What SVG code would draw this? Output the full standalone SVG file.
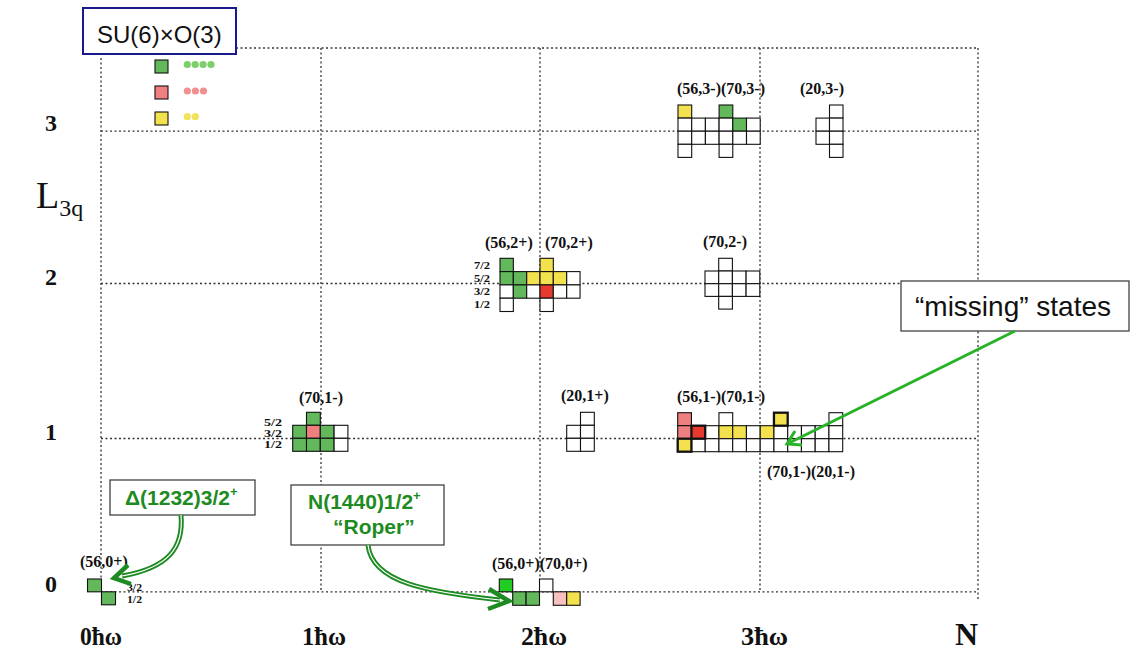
<svg xmlns="http://www.w3.org/2000/svg" width="1136" height="665" viewBox="0 0 1136 665">
<style>
.grid{stroke:#333;stroke-width:1.3;stroke-dasharray:2 2.5;fill:none}
.c{stroke:#111;stroke-width:1.1;fill:#fff}
.g{fill:#62b85a}
.p{fill:#f08080}
.R{fill:#e63a2e}
.y{fill:#f3e24d}
.lp{fill:#f7c1c1}
.bg{fill:#22cc22}
.t{stroke-width:2.3}
.lbl{font-family:"Liberation Serif",serif;font-weight:bold;font-size:16px;fill:#111}
.j{font-family:"Liberation Serif",serif;font-weight:bold;font-size:11px;fill:#111}
.ax{font-family:"Liberation Serif",serif;font-weight:bold;font-size:24px;fill:#111}
.hw{font-family:"Liberation Serif",serif;font-weight:bold;font-size:26px;fill:#111}
.box{fill:#fff;stroke:#333;stroke-width:1.2}
.gt{font-family:"Liberation Sans",sans-serif;font-weight:bold;font-size:21px;fill:#1e8b22}
.dl{fill:none;stroke:#1e8b22;stroke-width:5}
.dw{fill:none;stroke:#fff;stroke-width:1.2}
.ah{fill:none;stroke:#1e8b22;stroke-width:4.5;stroke-linejoin:miter}
</style>
<rect width="1136" height="665" fill="#fff"/>
<g id="grid">
<line class="grid" x1="236" y1="48" x2="978" y2="48"/>
<line class="grid" x1="101" y1="58" x2="101" y2="592"/>
<line class="grid" x1="321" y1="48" x2="321" y2="592"/>
<line class="grid" x1="540" y1="48" x2="540" y2="592"/>
<line class="grid" x1="760" y1="48" x2="760" y2="592"/>
<line class="grid" x1="978" y1="48" x2="978" y2="600"/>
<line class="grid" x1="101" y1="131.2" x2="978" y2="131.2"/>
<line class="grid" x1="101" y1="283.5" x2="978" y2="283.5"/>
<line class="grid" x1="101" y1="438.5" x2="978" y2="438.5"/>
<line class="grid" x1="101" y1="591.8" x2="978" y2="591.8"/>
</g>
<g id="axes">
<text class="ax" x="51" y="131" text-anchor="middle">3</text>
<text class="ax" x="51" y="285" text-anchor="middle">2</text>
<text class="ax" x="51" y="440" text-anchor="middle">1</text>
<text class="ax" x="51" y="592" text-anchor="middle">0</text>
<text x="36" y="208" font-family="Liberation Serif,serif" font-size="38" fill="#111">L<tspan font-size="24" dy="8">3q</tspan></text>
<text class="hw" x="80" y="645" textLength="42" lengthAdjust="spacingAndGlyphs">0ħω</text>
<text class="hw" x="302" y="645" textLength="44" lengthAdjust="spacingAndGlyphs">1ħω</text>
<text class="hw" x="521" y="645" textLength="46" lengthAdjust="spacingAndGlyphs">2ħω</text>
<text class="hw" x="741" y="645" textLength="47" lengthAdjust="spacingAndGlyphs">3ħω</text>
<text class="hw" x="955" y="645" style="font-size:32px">N</text>
</g>
<g id="legend">
<rect x="83" y="8" width="153" height="46" fill="#fff" stroke="#1a1a8c" stroke-width="2"/>
<text x="97" y="43" font-family="Liberation Sans,sans-serif" font-size="24" fill="#111">SU(6)×O(3)</text>
<rect class="c g" x="155" y="60" width="13" height="13"/>
<rect class="c p" x="155" y="86" width="13" height="13"/>
<rect class="c y" x="155" y="112" width="13" height="13"/>
<g fill="#7ccf6a"><circle cx="187.3" cy="64.5" r="3.6"/><circle cx="195.2" cy="64.5" r="3.6"/><circle cx="203.1" cy="64.5" r="3.6"/><circle cx="211" cy="64.5" r="3.6"/></g>
<g fill="#f29090"><circle cx="187.3" cy="91" r="3.6"/><circle cx="195.4" cy="91" r="3.6"/><circle cx="203.5" cy="91" r="3.6"/></g>
<g fill="#f0e35a"><circle cx="187.3" cy="116.7" r="3.6"/><circle cx="195.3" cy="116.7" r="3.6"/></g>
</g>
<g id="n56_3m_70_3m">
<text class="lbl" x="677" y="94">(56,3-)(70,3-)</text>
<rect class="c y" x="678" y="105" width="13.7" height="13.1"/>
<rect class="c g" x="719.1" y="105" width="13.7" height="13.1"/>
<rect class="c" x="678" y="118.1" width="13.7" height="13.1"/>
<rect class="c" x="691.7" y="118.1" width="13.7" height="13.1"/>
<rect class="c" x="705.4" y="118.1" width="13.7" height="13.1"/>
<rect class="c" x="719.1" y="118.1" width="13.7" height="13.1"/>
<rect class="c g" x="732.8" y="118.1" width="13.7" height="13.1"/>
<rect class="c" x="746.5" y="118.1" width="13.7" height="13.1"/>
<rect class="c" x="678" y="131.2" width="13.7" height="13.1"/>
<rect class="c" x="691.7" y="131.2" width="13.7" height="13.1"/>
<rect class="c" x="705.4" y="131.2" width="13.7" height="13.1"/>
<rect class="c" x="719.1" y="131.2" width="13.7" height="13.1"/>
<rect class="c" x="732.8" y="131.2" width="13.7" height="13.1"/>
<rect class="c" x="746.5" y="131.2" width="13.7" height="13.1"/>
<rect class="c" x="678" y="144.3" width="13.7" height="13.1"/>
<rect class="c" x="719.1" y="144.3" width="13.7" height="13.1"/>
</g>
<g id="n20_3m">
<text class="lbl" x="800" y="94">(20,3-)</text>
<rect class="c" x="829.5" y="105" width="13.5" height="13.1"/>
<rect class="c" x="816" y="118.1" width="13.5" height="13.1"/>
<rect class="c" x="829.5" y="118.1" width="13.5" height="13.1"/>
<rect class="c" x="816" y="131.2" width="13.5" height="13.1"/>
<rect class="c" x="829.5" y="131.2" width="13.5" height="13.1"/>
<rect class="c" x="829.5" y="144.3" width="13.5" height="13.1"/>
</g>
<g id="n56_2p_70_2p">
<text class="lbl" x="485" y="248">(56,2+)</text>
<text class="lbl" x="545" y="248">(70,2+)</text>
<text class="j" x="474" y="269" textLength="16" lengthAdjust="spacingAndGlyphs">7/2</text>
<text class="j" x="474" y="282" textLength="16" lengthAdjust="spacingAndGlyphs">5/2</text>
<text class="j" x="474" y="295" textLength="16" lengthAdjust="spacingAndGlyphs">3/2</text>
<text class="j" x="474" y="308" textLength="16" lengthAdjust="spacingAndGlyphs">1/2</text>
<rect class="c g" x="500" y="258.3" width="13.33" height="13.3"/>
<rect class="c y" x="540" y="258.3" width="13.33" height="13.3"/>
<rect class="c g" x="500" y="271.6" width="13.33" height="13.3"/>
<rect class="c g" x="513.3" y="271.6" width="13.33" height="13.3"/>
<rect class="c y" x="526.7" y="271.6" width="13.33" height="13.3"/>
<rect class="c y" x="540" y="271.6" width="13.33" height="13.3"/>
<rect class="c y" x="553.3" y="271.6" width="13.33" height="13.3"/>
<rect class="c" x="566.7" y="271.6" width="13.33" height="13.3"/>
<rect class="c" x="500" y="284.9" width="13.33" height="13.3"/>
<rect class="c g" x="513.3" y="284.9" width="13.33" height="13.3"/>
<rect class="c" x="526.7" y="284.9" width="13.33" height="13.3"/>
<rect class="c R" x="540" y="284.9" width="13.33" height="13.3"/>
<rect class="c" x="553.3" y="284.9" width="13.33" height="13.3"/>
<rect class="c" x="566.7" y="284.9" width="13.33" height="13.3"/>
<rect class="c" x="500" y="298.2" width="13.33" height="13.3"/>
<rect class="c" x="540" y="298.2" width="13.33" height="13.3"/>
</g>
<g id="n70_2m">
<text class="lbl" x="703" y="247">(70,2-)</text>
<rect class="c" x="718.7" y="258.3" width="13.7" height="12.7"/>
<rect class="c" x="705" y="271" width="13.7" height="12.7"/>
<rect class="c" x="718.7" y="271" width="13.7" height="12.7"/>
<rect class="c" x="732.4" y="271" width="13.7" height="12.7"/>
<rect class="c" x="746.1" y="271" width="13.7" height="12.7"/>
<rect class="c" x="705" y="283.7" width="13.7" height="12.7"/>
<rect class="c" x="718.7" y="283.7" width="13.7" height="12.7"/>
<rect class="c" x="732.4" y="283.7" width="13.7" height="12.7"/>
<rect class="c" x="746.1" y="283.7" width="13.7" height="12.7"/>
<rect class="c" x="718.7" y="296.4" width="13.7" height="12.7"/>
</g>
<g id="n70_1m">
<text class="lbl" x="299" y="403">(70,1-)</text>
<text class="j" x="264" y="426" textLength="18" lengthAdjust="spacingAndGlyphs">5/2</text>
<text class="j" x="264" y="437" textLength="18" lengthAdjust="spacingAndGlyphs">3/2</text>
<text class="j" x="264" y="448" textLength="18" lengthAdjust="spacingAndGlyphs">1/2</text>
<rect class="c g" x="306.5" y="412.3" width="13.8" height="13"/>
<rect class="c g" x="292.7" y="425.3" width="13.8" height="13"/>
<rect class="c p" x="306.5" y="425.3" width="13.8" height="13"/>
<rect class="c g" x="320.3" y="425.3" width="13.8" height="13"/>
<rect class="c" x="334.1" y="425.3" width="13.8" height="13"/>
<rect class="c g" x="292.7" y="438.3" width="13.8" height="13"/>
<rect class="c g" x="306.5" y="438.3" width="13.8" height="13"/>
<rect class="c g" x="320.3" y="438.3" width="13.8" height="13"/>
<rect class="c" x="334.1" y="438.3" width="13.8" height="13"/>
</g>
<g id="n20_1p">
<text class="lbl" x="561" y="401">(20,1+)</text>
<rect class="c" x="580.5" y="412.3" width="13.8" height="13"/>
<rect class="c" x="566.7" y="425.3" width="13.8" height="13"/>
<rect class="c" x="580.5" y="425.3" width="13.8" height="13"/>
<rect class="c" x="566.7" y="438.3" width="13.8" height="13"/>
<rect class="c" x="580.5" y="438.3" width="13.8" height="13"/>
</g>
<g id="n56_1m_70_1m_20_1m">
<text class="lbl" x="677" y="402">(56,1-)(70,1-)</text>
<text class="lbl" x="767" y="477">(70,1-)(20,1-)</text>
<rect class="c" x="718.95" y="412.7" width="13.75" height="13"/>
<rect class="c" x="828.95" y="412.7" width="13.75" height="13"/>
<rect class="c" x="691.45" y="425.7" width="13.75" height="13"/>
<rect class="c" x="705.2" y="425.7" width="13.75" height="13"/>
<rect class="c y" x="718.95" y="425.7" width="13.75" height="13"/>
<rect class="c y" x="732.7" y="425.7" width="13.75" height="13"/>
<rect class="c" x="746.45" y="425.7" width="13.75" height="13"/>
<rect class="c y" x="760.2" y="425.7" width="13.75" height="13"/>
<rect class="c" x="773.95" y="425.7" width="13.75" height="13"/>
<rect class="c" x="787.7" y="425.7" width="13.75" height="13"/>
<rect class="c" x="801.45" y="425.7" width="13.75" height="13"/>
<rect class="c" x="815.2" y="425.7" width="13.75" height="13"/>
<rect class="c" x="828.95" y="425.7" width="13.75" height="13"/>
<rect class="c" x="691.45" y="438.7" width="13.75" height="13"/>
<rect class="c" x="705.2" y="438.7" width="13.75" height="13"/>
<rect class="c" x="718.95" y="438.7" width="13.75" height="13"/>
<rect class="c" x="732.7" y="438.7" width="13.75" height="13"/>
<rect class="c" x="746.45" y="438.7" width="13.75" height="13"/>
<rect class="c" x="760.2" y="438.7" width="13.75" height="13"/>
<rect class="c" x="773.95" y="438.7" width="13.75" height="13"/>
<rect class="c" x="787.7" y="438.7" width="13.75" height="13"/>
<rect class="c" x="801.45" y="438.7" width="13.75" height="13"/>
<rect class="c" x="815.2" y="438.7" width="13.75" height="13"/>
<rect class="c" x="828.95" y="438.7" width="13.75" height="13"/>
<rect class="c p" x="677.7" y="412.7" width="13.75" height="13" stroke-width="1.8"/>
<rect class="c p" x="677.7" y="425.7" width="13.75" height="13" stroke-width="1.8"/>
<rect class="c y t" x="677.7" y="438.7" width="13.75" height="13"/>
<rect class="c R t" x="691.45" y="425.7" width="13.75" height="13"/>
<rect class="c y t" x="773.95" y="412.7" width="13.75" height="13"/>
</g>
<g id="n56_0p">
<text class="lbl" x="80" y="567">(56,0+)</text>
<text class="j" x="127" y="591" textLength="15" lengthAdjust="spacingAndGlyphs">3/2</text>
<text class="j" x="127" y="603" textLength="15" lengthAdjust="spacingAndGlyphs">1/2</text>
<rect class="c g" x="87.5" y="579" width="14" height="12.8"/>
<rect class="c g" x="101.5" y="591.8" width="14" height="13"/>
</g>
<g id="n56_0p_70_0p">
<text class="lbl" x="492" y="569">(56,0+)(70,0+)</text>
<rect class="c bg" x="499.3" y="579" width="13.4" height="12.8"/>
<rect class="c g" x="512.7" y="591.8" width="13.4" height="13.5"/>
<rect class="c g" x="526.1" y="591.8" width="13.4" height="13.5"/>
<rect class="c" x="539.5" y="579" width="13.4" height="12.8"/>
<rect class="c lp" x="553.3" y="591.8" width="13.4" height="13.5"/>
<rect class="c y" x="566.7" y="591.8" width="13.4" height="13.5"/>
</g>
<g id="delta_label">
<rect class="box" x="110" y="480" width="145" height="35"/>
<text class="gt" x="125" y="505">Δ(1232)3/2<tspan font-size="13" dy="-9">+</tspan></text>
</g>
<g id="roper_label">
<rect class="box" x="291" y="485" width="153" height="60"/>
<text class="gt" x="308" y="509">N(1440)1/2<tspan font-size="13" dy="-9">+</tspan></text>
<text class="gt" x="333" y="534">“Roper”</text>
</g>
<g id="missing_label">
<rect class="box" x="901" y="281" width="228" height="50"/>
<text x="915" y="316" font-family="Liberation Sans,sans-serif" font-size="28" fill="#111">“missing” states</text>
</g>
<g id="connectors">
<path class="dl" d="M181,515 C184,548 168,568 122,576"/>
<path class="dw" d="M181,515 C184,548 168,568 122,576"/>
<polyline class="ah" points="128,565 114,578 131,584"/>
<path class="dl" d="M368,545 C372,583 428,592 500,600"/>
<path class="dw" d="M368,545 C372,583 428,592 500,600"/>
<polyline class="ah" points="489,589 509,601 488,609"/>
<line x1="1015" y1="331" x2="790" y2="442.5" stroke="#27b327" stroke-width="3"/>
<polyline points="795,431 787,444 802,445" fill="none" stroke="#27b327" stroke-width="3"/>
</g>
</svg>
